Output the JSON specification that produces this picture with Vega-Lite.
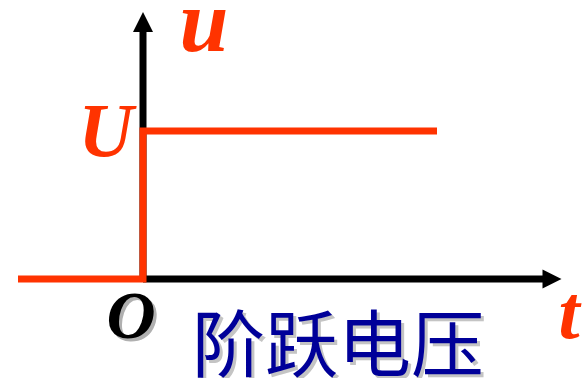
{
  "$schema": "https://vega.github.io/schema/vega-lite/v6.json",
  "width": 585,
  "height": 378,
  "autosize": {"type": "none"},
  "padding": 0,
  "background": "white",
  "config": {"view": {"stroke": null}},
  "encoding": {
    "x": {"field": "t", "type": "quantitative", "scale": {"domain": [-143, 442], "nice": false, "zero": false}, "axis": null},
    "y": {"field": "u", "type": "quantitative", "scale": {"domain": [-99, 279], "nice": false, "zero": false}, "axis": null}
  },
  "layer": [
    {
      "data": {"values": [
        {"t": 0, "u": 0, "t2": 410, "u2": 0},
        {"t": 0, "u": 0, "t2": 0, "u2": 250}
      ]},
      "mark": {"type": "rule", "color": "#000000", "strokeWidth": 7, "strokeCap": "butt"},
      "encoding": {
        "x2": {"field": "t2"},
        "y2": {"field": "u2"}
      }
    },
    {
      "data": {"values": [{"t": 0, "u": 257}]},
      "mark": {"type": "point", "shape": "M0,-1L1,1L-1,1Z", "size": 400, "filled": true, "color": "#000000", "opacity": 1, "strokeWidth": 0}
    },
    {
      "data": {"values": [{"t": 409, "u": 0}]},
      "mark": {"type": "point", "shape": "M1,0L-1,1L-1,-1Z", "size": 361, "filled": true, "color": "#000000", "opacity": 1, "strokeWidth": 0}
    },
    {
      "data": {"values": [
        {"i": 1, "t": -125, "u": 0},
        {"i": 2, "t": 0, "u": 0},
        {"i": 3, "t": 0, "u": 148},
        {"i": 4, "t": 294, "u": 148}
      ]},
      "mark": {"type": "line", "color": "#ff3300", "strokeWidth": 7, "strokeJoin": "miter", "strokeCap": "butt"},
      "encoding": {"order": {"field": "i", "type": "quantitative"}}
    },
    {
      "data": {"values": [{"t": 61, "u": 254, "label": "u"}]},
      "mark": {"type": "text", "font": "Liberation Serif", "fontStyle": "italic", "fontWeight": "bold", "fontSize": 88, "color": "#ff3300", "align": "center", "baseline": "middle"},
      "encoding": {"text": {"field": "label"}}
    },
    {
      "data": {"values": [{"t": -37, "u": 146, "label": "U"}]},
      "mark": {"type": "text", "font": "Liberation Serif", "fontStyle": "italic", "fontWeight": "bold", "fontSize": 76, "color": "#ff3300", "align": "center", "baseline": "middle"},
      "encoding": {"text": {"field": "label"}}
    },
    {
      "data": {"values": [{"t": 426, "u": -36, "label": "t"}]},
      "mark": {"type": "text", "font": "Liberation Serif", "fontStyle": "italic", "fontWeight": "bold", "fontSize": 76, "color": "#ff3300", "align": "center", "baseline": "middle"},
      "encoding": {"text": {"field": "label"}}
    },
    {
      "data": {"values": [{"t": -12, "u": -39, "label": "O"}]},
      "mark": {"type": "text", "font": "Liberation Serif", "fontStyle": "italic", "fontWeight": "bold", "fontSize": 68, "color": "#b0b0b0", "align": "center", "baseline": "middle", "dx": 3, "dy": 3},
      "encoding": {"text": {"field": "label"}}
    },
    {
      "data": {"values": [{"t": -12, "u": -39, "label": "O"}]},
      "mark": {"type": "text", "font": "Liberation Serif", "fontStyle": "italic", "fontWeight": "bold", "fontSize": 68, "color": "#000000", "align": "center", "baseline": "middle"},
      "encoding": {"text": {"field": "label"}}
    },
    {
      "data": {"values": [{"t": 195, "u": -70, "label": "阶跃电压"}]},
      "mark": {"type": "text", "font": "Noto Sans CJK SC", "fontWeight": "normal", "fontSize": 73, "color": "#c4c4c4", "align": "center", "baseline": "middle", "dx": 3, "dy": 3},
      "encoding": {"text": {"field": "label"}}
    },
    {
      "data": {"values": [{"t": 195, "u": -70, "label": "阶跃电压"}]},
      "mark": {"type": "text", "font": "Noto Sans CJK SC", "fontWeight": "normal", "fontSize": 73, "color": "#000099", "align": "center", "baseline": "middle"},
      "encoding": {"text": {"field": "label"}}
    }
  ]
}
